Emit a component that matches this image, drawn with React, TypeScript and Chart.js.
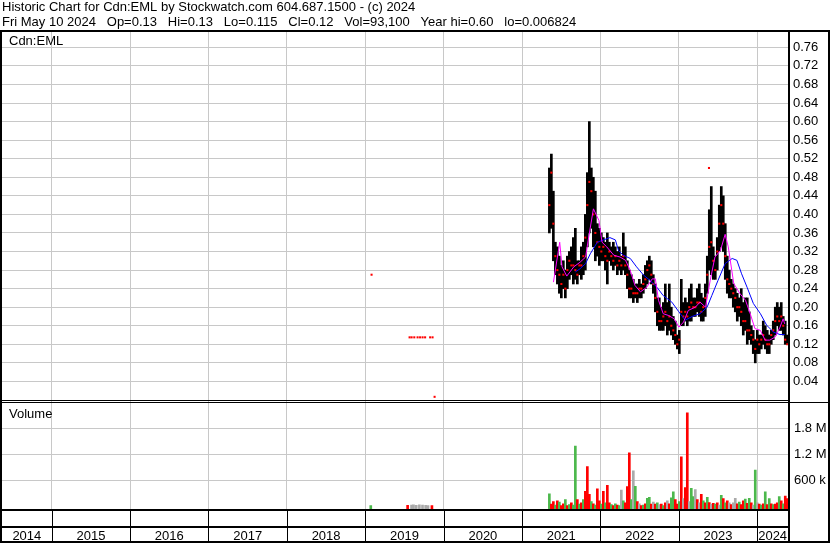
import { useEffect, useRef } from 'react';
import { Chart, registerables } from 'chart.js';

Chart.register(...registerables);

const TITLE_LINE_1 = 'Historic Chart for Cdn:EML by Stockwatch.com 604.687.1500 - (c) 2024';
const TITLE_LINE_2 = 'Fri May 10 2024   Op=0.13   Hi=0.13   Lo=0.115   Cl=0.12   Vol=93,100   Year hi=0.60   lo=0.006824';
const SYMBOL_LABEL = 'Cdn:EML';
const VOLUME_LABEL = 'Volume';

const YEARS = [2014, 2015, 2016, 2017, 2018, 2019, 2020, 2021, 2022, 2023, 2024];
const PRICE_TICKS = [0.04, 0.08, 0.12, 0.16, 0.2, 0.24, 0.28, 0.32, 0.36, 0.4, 0.44, 0.48, 0.52, 0.56, 0.6, 0.64, 0.68, 0.72, 0.76];
const VOLUME_TICKS = [600, 1200, 1800]; // thousands
const VOLUME_TICK_LABELS = ['600 k', '1.2 M', '1.8 M'];

// bars: first bar date (fractional year) and spacing between bars
const BAR_START = 2021.348;
const BAR_STEP = 0.0255;

const HIGH = [
  0.50, 0.53, 0.45, 0.34, 0.33, 0.31, 0.29, 0.30, 0.28, 0.31,
  0.32, 0.33, 0.35, 0.37, 0.30, 0.30, 0.33, 0.34, 0.40, 0.49,
  0.60, 0.50, 0.48, 0.45, 0.38, 0.37, 0.36, 0.35, 0.34, 0.36,
  0.34, 0.33, 0.34, 0.33, 0.32, 0.33, 0.31, 0.36, 0.33, 0.30,
  0.28, 0.27, 0.26, 0.25, 0.25, 0.26, 0.25, 0.27, 0.29, 0.30,
  0.31, 0.30, 0.27, 0.25, 0.22, 0.22, 0.20, 0.21, 0.25, 0.21,
  0.25, 0.20, 0.18, 0.17, 0.14, 0.15, 0.26, 0.21, 0.22, 0.21,
  0.24, 0.25, 0.22, 0.22, 0.24, 0.25, 0.23, 0.22, 0.25, 0.31,
  0.41, 0.46, 0.33, 0.31, 0.35, 0.42, 0.46, 0.44, 0.38, 0.31,
  0.28, 0.26, 0.25, 0.24, 0.23, 0.22, 0.24, 0.21, 0.22, 0.22,
  0.19, 0.16, 0.15, 0.13, 0.15, 0.14, 0.14, 0.17, 0.16, 0.15,
  0.14, 0.15, 0.17, 0.20, 0.21, 0.20, 0.21, 0.18, 0.17, 0.14,
];
const LOW = [
  0.36, 0.37, 0.30, 0.27, 0.25, 0.23, 0.22, 0.24, 0.22, 0.24,
  0.26, 0.27, 0.25, 0.26, 0.25, 0.27, 0.26, 0.27, 0.28, 0.33,
  0.36, 0.37, 0.33, 0.30, 0.31, 0.29, 0.30, 0.30, 0.28, 0.25,
  0.30, 0.29, 0.28, 0.29, 0.27, 0.28, 0.27, 0.28, 0.27, 0.24,
  0.22, 0.22, 0.21, 0.22, 0.21, 0.22, 0.22, 0.23, 0.24, 0.25,
  0.26, 0.25, 0.23, 0.19, 0.16, 0.15, 0.15, 0.15, 0.16, 0.14,
  0.15, 0.14, 0.13, 0.12, 0.11, 0.10, 0.16, 0.16, 0.17, 0.16,
  0.17, 0.17, 0.18, 0.18, 0.19, 0.18, 0.17, 0.17, 0.18, 0.23,
  0.28, 0.27, 0.26, 0.26, 0.28, 0.32, 0.33, 0.32, 0.26, 0.23,
  0.22, 0.22, 0.20, 0.19, 0.17, 0.18, 0.16, 0.14, 0.15, 0.12,
  0.13, 0.12, 0.10, 0.08, 0.10, 0.10, 0.11, 0.12, 0.11, 0.10,
  0.10, 0.12, 0.13, 0.14, 0.16, 0.15, 0.15, 0.14, 0.12, 0.12,
];
const CLOSE = [
  0.42, 0.49, 0.38, 0.31, 0.28, 0.27, 0.25, 0.27, 0.24, 0.28,
  0.30, 0.29, 0.29, 0.28, 0.27, 0.29, 0.29, 0.31, 0.35, 0.42,
  0.47, 0.45, 0.40, 0.36, 0.34, 0.33, 0.32, 0.33, 0.31, 0.30,
  0.32, 0.31, 0.30, 0.31, 0.29, 0.30, 0.29, 0.31, 0.29, 0.27,
  0.24, 0.24, 0.23, 0.23, 0.23, 0.24, 0.24, 0.25, 0.26, 0.28,
  0.29, 0.27, 0.25, 0.22, 0.19, 0.17, 0.17, 0.18, 0.19, 0.17,
  0.18, 0.16, 0.15, 0.14, 0.12, 0.13, 0.19, 0.18, 0.19, 0.18,
  0.20, 0.21, 0.20, 0.20, 0.21, 0.21, 0.19, 0.20, 0.22, 0.27,
  0.33, 0.34, 0.30, 0.28, 0.32, 0.38, 0.42, 0.38, 0.31, 0.26,
  0.25, 0.24, 0.23, 0.22, 0.20, 0.20, 0.19, 0.17, 0.17, 0.15,
  0.15, 0.14, 0.13, 0.11, 0.13, 0.12, 0.13, 0.14, 0.13, 0.12,
  0.12, 0.14, 0.15, 0.17, 0.18, 0.17, 0.18, 0.16, 0.13, 0.12,
];
// volume in thousands of shares, and direction: u = up, d = down, n = unchanged
const VOLUME = [
  275, 35, 95, 15, 115, 85, 5, 45, 145, 5,
  25, 65, 15, 1395, 145, 35, 65, 145, 335, 915,
  265, 95, 45, 15, 395, 115, 35, 335, 65, 475,
  65, 25, 5, 45, 15, 5, 365, 115, 65, 445,
  1235, 145, 815, 455, 95, 45, 5, 15, 45, 175,
  195, 35, 85, 35, 65, 25, 35, 5, 65, 115,
  45, 185, 325, 145, 35, 95, 1145, 165, 425, 2175,
  95, 405, 215, 375, 145, 65, 265, 115, 65, 195,
  75, 35, 55, 35, 65, 15, 245, 165, 65, 115,
  65, 25, 65, 175, 45, 85, 25, 115, 155, 55,
  175, 65, 15, 835, 65, 35, 15, 45, 325, 25,
  165, 45, 25, 35, 65, 215, 115, 45, 225, 165,
];
const VOLUME_DIR = [
  'uddududdud', 'uduudududd', 'dududdudud', 'dududunudd',
  'dunudndudu', 'udndundudn', 'duuddudndd', 'nuundndudu',
  'dndudnudud', 'ndnnduddud', 'udnundudud', 'ududdududd',
].join('');

// sparse trades outside the bar series (early 2019 trades and a stray 2023 print)
const SPARSE_T = [2019.08, 2019.565, 2019.591, 2019.625, 2019.667, 2019.699, 2019.731, 2019.763, 2019.827, 2019.858, 2019.884, 2023.384];
const SPARSE_CLOSE = [0.27, 0.135, 0.135, 0.135, 0.135, 0.135, 0.135, 0.135, 0.135, 0.135, 0.0068, 0.50];
const EARLY_VOL_T = [2019.07, 2019.54, 2019.59, 2019.615, 2019.65, 2019.69, 2019.73, 2019.77, 2019.8, 2019.85];
const EARLY_VOL = [5, 10, 15, 20, 10, 20, 15, 10, 5, 5];
const EARLY_VOL_DIR = 'udnnnnnnnd';

// moving averages
const MA_FAST_T = [
  2021.40, 2021.48, 2021.51, 2021.57, 2021.66, 2021.74, 2021.81, 2021.85, 2021.91, 2021.98,
  2022.02, 2022.08, 2022.17, 2022.25, 2022.32, 2022.38, 2022.44, 2022.51, 2022.59, 2022.66,
  2022.70, 2022.74, 2022.80, 2022.87, 2022.94, 2023.00, 2023.06, 2023.12, 2023.21, 2023.27,
  2023.34, 2023.40, 2023.46, 2023.53, 2023.59, 2023.63, 2023.70, 2023.78, 2023.85, 2023.91,
  2023.97, 2024.04, 2024.10, 2024.16, 2024.23, 2024.29, 2024.33, 2024.35,
];
const MA_FAST = [
  0.254, 0.340, 0.287, 0.267, 0.287, 0.297, 0.308, 0.351, 0.412, 0.387,
  0.340, 0.330, 0.312, 0.308, 0.301, 0.279, 0.247, 0.233, 0.243, 0.261,
  0.261, 0.215, 0.186, 0.182, 0.175, 0.157, 0.168, 0.193, 0.200, 0.211,
  0.200, 0.258, 0.308, 0.322, 0.357, 0.330, 0.251, 0.229, 0.215, 0.186,
  0.154, 0.150, 0.129, 0.129, 0.136, 0.157, 0.175, 0.164,
];
const MA_SLOW_T = [
  2021.68, 2021.74, 2021.81, 2021.87, 2021.96, 2022.04, 2022.12, 2022.19, 2022.23, 2022.29,
  2022.38, 2022.46, 2022.55, 2022.63, 2022.72, 2022.80, 2022.91, 2023.00, 2023.08, 2023.17,
  2023.27, 2023.36, 2023.42, 2023.50, 2023.59, 2023.68, 2023.74, 2023.80, 2023.87, 2023.95,
  2024.04, 2024.12, 2024.21, 2024.29, 2024.35,
];
const MA_SLOW = [
  0.276, 0.283, 0.294, 0.315, 0.340, 0.345, 0.350, 0.345, 0.322, 0.312,
  0.305, 0.287, 0.269, 0.258, 0.243, 0.225, 0.211, 0.190, 0.172, 0.180,
  0.186, 0.200, 0.225, 0.258, 0.294, 0.305, 0.301, 0.272, 0.243, 0.208,
  0.186, 0.161, 0.146, 0.141, 0.141,
];

const X_MIN = 2014.366;
const X_MAX = 2024.392;
const PRICE_MIN = -0.0022;
const PRICE_MAX = 0.7931;
const VOL_MIN = -89;
const VOL_MAX = 2449;
const VOL_BAR_BASE = -80;

const FONT = '"Liberation Sans", Arial, sans-serif';
const GRID = '#c8c8c8';
const GREEN = '#4cb84c';
const RED = '#ff0000';
const GRAY = '#aaaaaa';

const dirColor = (d: string) => (d === 'u' ? GREEN : d === 'd' ? RED : GRAY);

const framePlugin = {
  id: 'stockwatchFrame',
  afterDraw(chart: any) {
    const { ctx, chartArea } = chart;
    const xs = chart.scales.x;
    const sep = Math.round(chart.scales.y.getPixelForValue(0));
    const volBottom = Math.round(chartArea.bottom);
    const W = chart.width;
    const H = chart.height;
    const R = Math.round(chartArea.right);
    ctx.save();
    ctx.fillStyle = '#000';
    ctx.fillRect(0, 30, W, 2);
    ctx.fillRect(0, 30, 2, H - 30);
    ctx.fillRect(R, 30, 2, H - 32);
    ctx.fillRect(W - 2, 30, 2, H - 30);
    ctx.fillRect(2, sep, R - 2, 1);
    ctx.fillRect(2, sep + 2, W - 2, 1);
    ctx.fillRect(0, volBottom - 1, R + 2, 2);
    ctx.fillRect(0, volBottom + 16, R + 2, 2);
    ctx.fillRect(0, H - 2, W, 2);
    for (const y of YEARS.slice(1)) {
      const px = Math.round(xs.getPixelForValue(y));
      ctx.fillRect(px, volBottom, 1, H - volBottom - 2);
    }
    ctx.font = `13px ${FONT}`;
    ctx.textBaseline = 'alphabetic';
    ctx.textAlign = 'left';
    ctx.fillText(TITLE_LINE_1, 2, 11);
    ctx.fillText(TITLE_LINE_2, 2, 26);
    ctx.fillText(SYMBOL_LABEL, 9, 45);
    ctx.fillText(VOLUME_LABEL, 9, 418);
    ctx.restore();
  },
};

export default function App() {
  const ref = useRef<HTMLCanvasElement>(null);
  useEffect(() => {
    const canvas = ref.current;
    if (!canvas) return;
    const barX = HIGH.map((_, i) => BAR_START + i * BAR_STEP);
    const chart = new Chart(canvas, {
      type: 'bar',
      data: {
        datasets: [
          {
            type: 'line',
            data: MA_FAST_T.map((t, i) => ({ x: t, y: MA_FAST[i] })),
            borderColor: '#ff00ff',
            borderWidth: 1,
            pointRadius: 0,
            xAxisID: 'x',
            yAxisID: 'y',
            order: 1,
          },
          {
            type: 'line',
            data: MA_SLOW_T.map((t, i) => ({ x: t, y: MA_SLOW[i] })),
            borderColor: '#0000ff',
            borderWidth: 1,
            pointRadius: 0,
            xAxisID: 'x',
            yAxisID: 'y',
            order: 2,
          },
          {
            type: 'line',
            data: barX.map((t, i) => ({ x: t, y: CLOSE[i] })),
            showLine: false,
            pointStyle: 'rect',
            pointRadius: 1.45,
            pointBackgroundColor: RED,
            pointBorderWidth: 0,
            xAxisID: 'x',
            yAxisID: 'y',
            order: 3,
          },
          {
            type: 'line',
            data: SPARSE_T.map((t, i) => ({ x: t, y: SPARSE_CLOSE[i] })),
            showLine: false,
            pointStyle: 'rect',
            pointRadius: 1.45,
            pointBackgroundColor: RED,
            pointBorderWidth: 0,
            xAxisID: 'x',
            yAxisID: 'y',
            order: 3,
          },
          {
            type: 'bar',
            data: barX.map((t, i) => ({ x: t, y: [LOW[i], HIGH[i]] })),
            backgroundColor: '#000',
            borderWidth: 0,
            barThickness: 2,
            grouped: false,
            xAxisID: 'x',
            yAxisID: 'y',
            order: 5,
          },
          {
            type: 'bar',
            data: barX.map((t, i) => ({ x: t, y: VOLUME[i] })),
            backgroundColor: VOLUME.map((_, i) => dirColor(VOLUME_DIR[i])),
            borderWidth: 0,
            barThickness: 2,
            base: VOL_BAR_BASE,
            grouped: false,
            xAxisID: 'x',
            yAxisID: 'yv',
            order: 5,
          },
          {
            type: 'bar',
            data: EARLY_VOL_T.map((t, i) => ({ x: t, y: EARLY_VOL[i] })),
            backgroundColor: EARLY_VOL.map((_, i) => dirColor(EARLY_VOL_DIR[i])),
            borderWidth: 0,
            barThickness: 2,
            base: VOL_BAR_BASE,
            grouped: false,
            xAxisID: 'x',
            yAxisID: 'yv',
            order: 5,
          },
        ] as any,
      },
      options: {
        animation: false,
        responsive: false,
        devicePixelRatio: 1,
        layout: { autoPadding: false, padding: { top: 32, left: 2, right: 0, bottom: 0 } },
        plugins: { legend: { display: false }, tooltip: { enabled: false }, title: { display: false } },
        scales: {
          x: {
            type: 'linear',
            position: 'bottom',
            weight: 0,
            min: X_MIN,
            max: X_MAX,
            offset: false,
            grid: { color: GRID, lineWidth: 1, drawTicks: false, offset: false },
            border: { display: false },
            ticks: { display: false, padding: 0 },
            afterBuildTicks: (s: any) => {
              s.ticks = YEARS.slice(1).map((y) => ({ value: y }));
            },
            afterFit: (s: any) => {
              s.height = 0;
            },
          },
          xl: {
            type: 'linear',
            position: 'bottom',
            weight: 1,
            min: X_MIN,
            max: X_MAX,
            offset: false,
            grid: { display: false, drawTicks: true, tickLength: 19, offset: false },
            border: { display: false },
            ticks: {
              autoSkip: false,
              maxRotation: 0,
              padding: 0,
              color: '#000',
              font: { family: FONT, size: 13 },
              callback: (_v: any, i: number) => String(YEARS[i]),
            },
            afterBuildTicks: (s: any) => {
              s.ticks = YEARS.map((y) => ({ value: (Math.max(y, X_MIN) + Math.min(y + 1, X_MAX)) / 2 }));
            },
            afterFit: (s: any) => {
              s.height = 33.5;
            },
          },
          y: {
            type: 'linear',
            position: 'right',
            stack: 'right',
            stackWeight: 369,
            weight: 0,
            min: PRICE_MIN,
            max: PRICE_MAX,
            grid: { color: GRID, lineWidth: 1, drawTicks: false },
            border: { display: false },
            ticks: {
              autoSkip: false,
              padding: 5,
              color: '#000',
              font: { family: FONT, size: 13 },
              callback: (v: any) => Number(v).toFixed(2),
            },
            afterBuildTicks: (s: any) => {
              s.ticks = PRICE_TICKS.map((v) => ({ value: v }));
            },
            afterFit: (s: any) => {
              s.width = 42;
            },
          },
          yv: {
            type: 'linear',
            position: 'right',
            stack: 'right',
            stackWeight: 108.5,
            weight: 1,
            min: VOL_MIN,
            max: VOL_MAX,
            grid: { color: GRID, lineWidth: 1, drawTicks: false },
            border: { display: false },
            ticks: {
              autoSkip: false,
              padding: 6,
              color: '#000',
              font: { family: FONT, size: 13 },
              callback: (_v: any, i: number) => VOLUME_TICK_LABELS[i],
            },
            afterBuildTicks: (s: any) => {
              s.ticks = VOLUME_TICKS.map((v) => ({ value: v }));
            },
            afterFit: (s: any) => {
              s.width = 42;
            },
          },
        },
      } as any,
      plugins: [framePlugin],
    });
    return () => chart.destroy();
  }, []);
  return (
    <div style={{ position: 'fixed', left: 0, top: 0, width: 830, height: 543, background: '#fff' }}>
      <canvas ref={ref} width={830} height={543} style={{ display: 'block' }} />
    </div>
  );
}
